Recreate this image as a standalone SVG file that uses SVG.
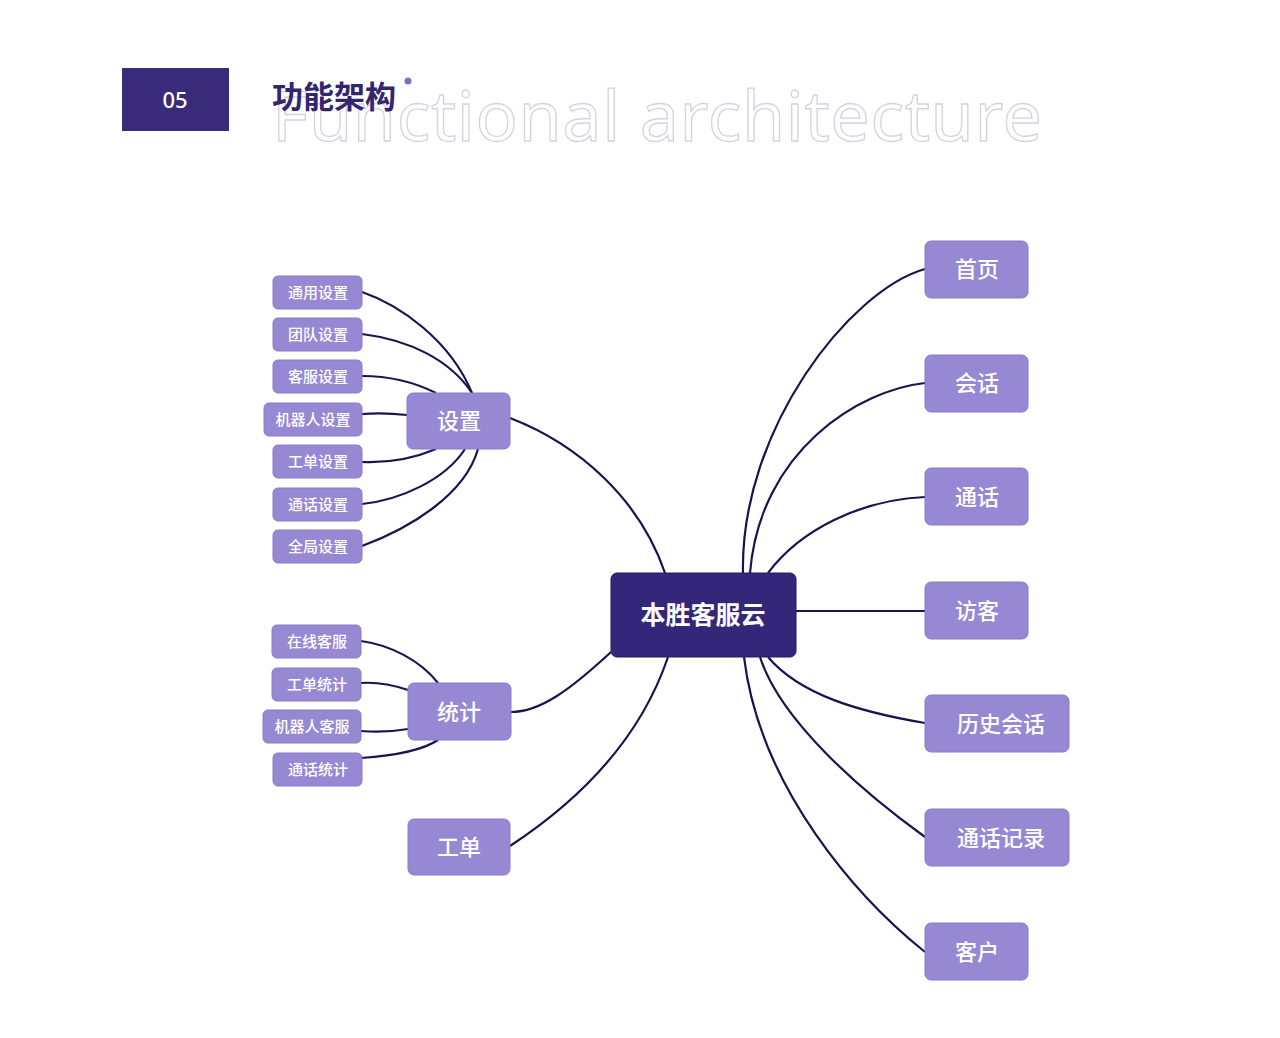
<svg xmlns="http://www.w3.org/2000/svg" width="1280" height="1038" viewBox="0 0 1280 1038">
<style>
.n{fill:#9788d4;stroke:#8a7bcb;stroke-width:1}
.t{font-family:"Noto Sans CJK SC","Noto Sans",sans-serif;fill:#fff;text-anchor:middle;dominant-baseline:central;font-weight:500}
.s{font-size:15px}.m{font-size:22px}
.c path{fill:none;stroke:#1c1250;stroke-width:2.2}
</style>
<rect width="1280" height="1038" fill="#fff"/>
<rect x="122" y="68" width="107" height="63" fill="#3a2b7a"/>
<text x="175" y="99" class="t" style="font-size:22px;font-family:'Noto Sans',sans-serif">05</text>
<text x="272" y="141" textLength="770" style="font-family:'Noto Sans',sans-serif;font-size:70px;fill:none;stroke:#d4d2e2;stroke-width:1.3">Functional architecture</text>
<text x="272" y="108" style="font-family:'Noto Sans CJK SC',sans-serif;font-size:31px;font-weight:bold;fill:#33266e">功能架构</text>
<circle cx="408" cy="81" r="3.5" fill="#7e6fc0"/>
<g class="c">
<path d="M665,573 C640,500 580,445 510,418"/>
<path d="M472,393 C450,340 400,305 362,292"/>
<path d="M472,393 C450,360 410,340 362,334"/>
<path d="M436,393 C410,380 385,376 362,376"/>
<path d="M407,415 C390,413 375,413 362,414"/>
<path d="M436,449 C410,460 385,463 362,462"/>
<path d="M465,449 C445,480 400,500 362,504"/>
<path d="M478,449 C465,495 410,528 362,546"/>
<path d="M611,652 C570,690 540,712 511,712"/>
<path d="M438,683 C420,660 390,645 361,641"/>
<path d="M408,690 C390,684 375,682 361,683"/>
<path d="M408,729 C390,732 375,732 361,731"/>
<path d="M438,740 C420,752 390,756 361,758"/>
<path d="M668,657 C640,740 580,800 510,846"/>
<path d="M743,573 C740,430 850,290 925,269"/>
<path d="M750,573 C760,450 860,390 925,383"/>
<path d="M768,573 C800,530 860,500 925,497"/>
<path d="M796,611 L925,611"/>
<path d="M768,657 C800,695 860,712 925,723"/>
<path d="M760,657 C780,720 860,790 925,837"/>
<path d="M744,657 C760,790 860,900 925,952"/>
</g>
<g id="center"><rect x="611" y="573" width="185" height="84" rx="6" fill="#34277a" stroke="#241a5a"/><text x="703" y="613" class="t" style="font-size:25px;font-weight:bold">本胜客服云</text></g>
<g id="shezhi"><rect class="n" x="407" y="393" width="103" height="56" rx="6"/><text x="459" y="419" class="t m">设置</text></g>
<g id="tongji"><rect class="n" x="408" y="683" width="103" height="57" rx="6"/><text x="459" y="710" class="t m">统计</text></g>
<g id="gongdan"><rect class="n" x="408" y="819" width="102" height="56" rx="6"/><text x="459" y="845" class="t m">工单</text></g>
<g id="s1"><rect class="n" x="273" y="276" width="89" height="33" rx="5"/><text x="318" y="291" class="t s">通用设置</text></g>
<g id="s2"><rect class="n" x="273" y="318" width="89" height="33" rx="5"/><text x="318" y="333" class="t s">团队设置</text></g>
<g id="s3"><rect class="n" x="273" y="360" width="89" height="33" rx="5"/><text x="318" y="375" class="t s">客服设置</text></g>
<g id="s4"><rect class="n" x="264" y="403" width="98" height="33" rx="5"/><text x="313" y="418" class="t s">机器人设置</text></g>
<g id="s5"><rect class="n" x="273" y="445" width="89" height="33" rx="5"/><text x="318" y="460" class="t s">工单设置</text></g>
<g id="s6"><rect class="n" x="273" y="488" width="89" height="33" rx="5"/><text x="318" y="503" class="t s">通话设置</text></g>
<g id="s7"><rect class="n" x="273" y="530" width="89" height="33" rx="5"/><text x="318" y="545" class="t s">全局设置</text></g>
<g id="t1"><rect class="n" x="272" y="625" width="89" height="33" rx="5"/><text x="317" y="640" class="t s">在线客服</text></g>
<g id="t2"><rect class="n" x="272" y="668" width="89" height="33" rx="5"/><text x="317" y="683" class="t s">工单统计</text></g>
<g id="t3"><rect class="n" x="263" y="710" width="98" height="33" rx="5"/><text x="312" y="725" class="t s">机器人客服</text></g>
<g id="t4"><rect class="n" x="273" y="753" width="89" height="33" rx="5"/><text x="318" y="768" class="t s">通话统计</text></g>
<g id="r1"><rect class="n" x="925" y="241" width="103" height="57" rx="6"/><text x="977" y="267" class="t m">首页</text></g>
<g id="r2"><rect class="n" x="925" y="355" width="103" height="57" rx="6"/><text x="977" y="381" class="t m">会话</text></g>
<g id="r3"><rect class="n" x="925" y="468" width="103" height="57" rx="6"/><text x="977" y="495" class="t m">通话</text></g>
<g id="r4"><rect class="n" x="925" y="582" width="103" height="57" rx="6"/><text x="977" y="609" class="t m">访客</text></g>
<g id="r5"><rect class="n" x="925" y="695" width="144" height="57" rx="6"/><text x="1001" y="722" class="t m">历史会话</text></g>
<g id="r6"><rect class="n" x="925" y="809" width="144" height="57" rx="6"/><text x="1001" y="836" class="t m">通话记录</text></g>
<g id="r7"><rect class="n" x="925" y="923" width="103" height="57" rx="6"/><text x="977" y="950" class="t m">客户</text></g>
</svg>
